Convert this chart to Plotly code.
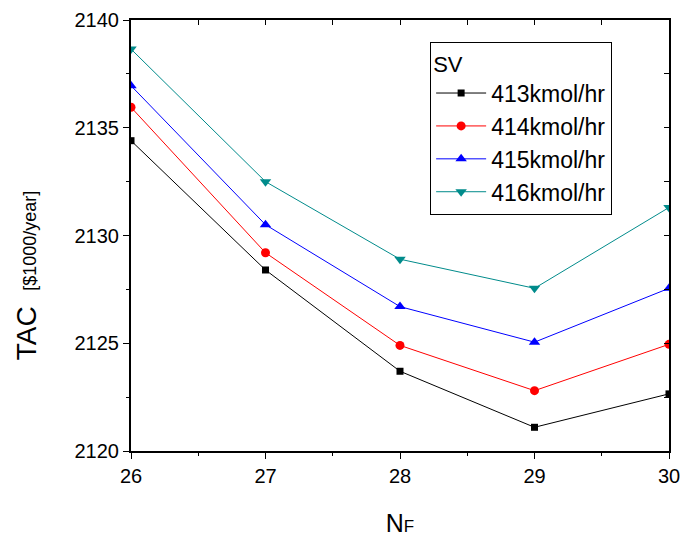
import plotly.graph_objects as go

nf = [26, 27, 28, 29, 30]
series_names = ["413kmol/hr", "414kmol/hr", "415kmol/hr", "416kmol/hr"]
tac_413 = [2134.4, 2128.4, 2123.7, 2121.1, 2122.65]
tac_414 = [2135.95, 2129.2, 2124.9, 2122.8, 2124.95]
tac_415 = [2136.95, 2130.5, 2126.7, 2125.05, 2127.55]
tac_416 = [2138.65, 2132.5, 2128.9, 2127.55, 2131.3]

values = [tac_413, tac_414, tac_415, tac_416]
colors = ["#000000", "#ff0000", "#0000ff", "#008b8b"]
symbols = ["square", "circle", "triangle-up", "triangle-down"]
sizes = [7, 9, 10, 10]

fig = go.Figure()
for i, (name, vals) in enumerate(zip(series_names, values)):
    fig.add_trace(go.Scatter(
        x=nf, y=vals, name=name, mode="lines+markers",
        line=dict(color=colors[i], width=1),
        marker=dict(color=colors[i], symbol=symbols[i], size=sizes[i]),
        legendgroup=str(i),
    ))

font = "Arial, Liberation Sans, sans-serif"
fig.update_layout(
    width=680, height=538,
    margin=dict(l=131, r=11, t=20, b=87),
    paper_bgcolor="white", plot_bgcolor="white",
    font=dict(family=font, size=20, color="black"),
    showlegend=True,
    legend=dict(
        title=dict(text="SV", font=dict(size=22)),
        font=dict(size=23),
        x=0.556, y=0.949, xanchor="left", yanchor="top",
        bgcolor="white", bordercolor="black", borderwidth=1,
        tracegroupgap=0, itemwidth=50,
    ),
    xaxis=dict(
        range=[26, 30], tickvals=[26, 27, 28, 29, 30], automargin=False,
        ticklabeloverflow="allow",
        ticks="outside", ticklen=6, tickwidth=1, tickcolor="black",
        minor=dict(dtick=0.5, ticks="outside", ticklen=3, tickcolor="black"),
        showline=True, linecolor="black", linewidth=2,
        showgrid=False, zeroline=False,
        title=dict(text="N<span style='font-size:17px'>F</span>", font=dict(size=25), standoff=28),
    ),
    yaxis=dict(
        range=[2120, 2140], tickvals=[2120, 2125, 2130, 2135, 2140], automargin=False,
        ticklabeloverflow="allow",
        ticks="outside", ticklen=6, tickwidth=1, tickcolor="black",
        minor=dict(dtick=2.5, ticks="outside", ticklen=3, tickcolor="black"),
        showline=True, linecolor="black", linewidth=2,
        showgrid=False, zeroline=False,
    ),
    xaxis2=dict(
        range=[26, 30], overlaying="x", side="top", anchor="y", automargin=False,
        tickvals=[26, 27, 28, 29, 30], showticklabels=False,
        ticks="inside", ticklen=5, tickcolor="black",
        minor=dict(dtick=0.5, ticks="inside", ticklen=5, tickcolor="black"),
        showline=True, linecolor="black", linewidth=2, showgrid=False, zeroline=False,
    ),
    yaxis2=dict(
        range=[2120, 2140], overlaying="y", side="right", anchor="x", automargin=False,
        tickvals=[2120, 2125, 2130, 2135, 2140], showticklabels=False,
        ticks="inside", ticklen=5, tickcolor="black",
        minor=dict(dtick=2.5, ticks="inside", ticklen=5, tickcolor="black"),
        showline=True, linecolor="black", linewidth=2, showgrid=False, zeroline=False,
    ),
)
fig.add_trace(go.Scatter(x=[None], y=[None], xaxis="x2", yaxis="y2", showlegend=False, hoverinfo="skip"))

fig.add_annotation(
    text="TAC  <span style='font-size:18px'>[$1000/year]</span>",
    textangle=-90, xref="paper", yref="paper",
    x=-0.195, y=0.408, xanchor="center", yanchor="middle",
    showarrow=False, font=dict(size=28, family=font),
)

fig.write_html("out.html")
